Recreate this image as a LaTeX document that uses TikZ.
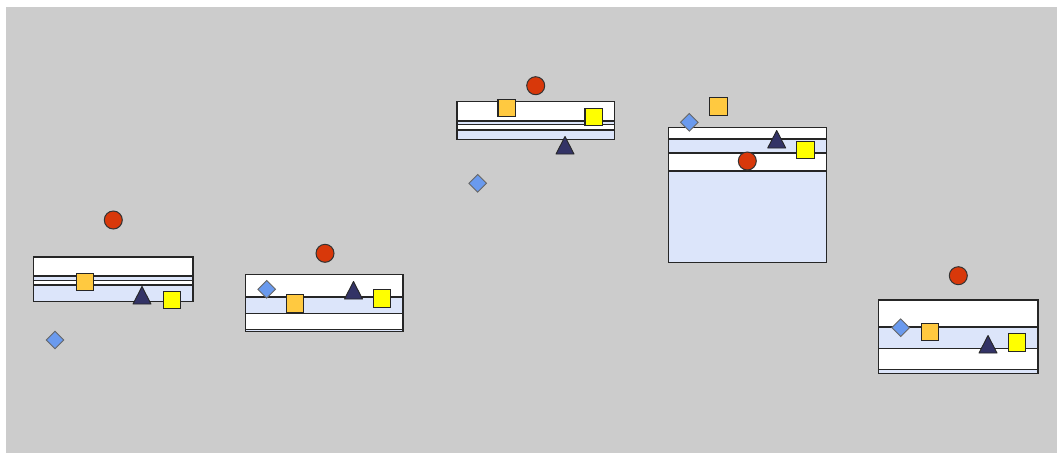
\documentclass[tikz,border=0pt]{standalone}
\usetikzlibrary{shapes.geometric}
\definecolor{bggray}{HTML}{CCCCCC}
\definecolor{lblue}{HTML}{DCE5FA}
\definecolor{dotred}{HTML}{D8380A}
\definecolor{sqorange}{HTML}{FFC940}
\definecolor{sqyellow}{HTML}{FFFF00}
\definecolor{trinavy}{HTML}{333366}
\definecolor{dmblue}{HTML}{6A9AEE}
\tikzset{
  band/.style={draw=black!85, line width=1.3pt},
  dot/.style={draw=black!80, fill=dotred, circle, minimum size=18pt, inner sep=0pt, line width=1pt},
  sqo/.style={draw=black!85, fill=sqorange, rectangle, minimum size=17.5pt, inner sep=0pt, line width=1.1pt},
  sqy/.style={draw=black!85, fill=sqyellow, rectangle, minimum size=17.5pt, inner sep=0pt, line width=1.1pt},
  dmd/.style={draw=black!60, fill=dmblue, diamond, minimum size=18pt, inner sep=0pt, line width=0.9pt},
  tri/.pic={\draw[draw=black!85, fill=trinavy, line width=0.9pt, line join=round] (-9,0) -- (0,-17.5) -- (9,0) -- cycle;}
}
\begin{document}
\begin{tikzpicture}[x=1pt,y=-1pt]
\useasboundingbox (0,0) rectangle (1057,453);
\fill[white] (0,0) rectangle (1057,453);
\fill[bggray] (6,6.5) rectangle (1057,453);
% boxes
\foreach \ya/\yb/\c in {257/276/white, 276/280.5/lblue, 280.5/285/white, 285/301.5/lblue}
  \draw[band, fill=\c] (33.5,\ya) rectangle (193,\yb);
\foreach \ya/\yb/\c in {274.5/297/white, 297/313.5/lblue, 313.5/329.3/white, 329.3/331.5/lblue}
  \draw[band, fill=\c] (245.5,\ya) rectangle (403,\yb);
\foreach \ya/\yb/\c in {101.7/121/white, 121/124.5/lblue, 124.5/130/white, 130/139.5/lblue}
  \draw[band, fill=\c] (457,\ya) rectangle (614.5,\yb);
\foreach \ya/\yb/\c in {127.3/139/white, 139/153/lblue, 153/171/white, 171/262.5/lblue}
  \draw[band, fill=\c] (668.7,\ya) rectangle (826.3,\yb);
\foreach \ya/\yb/\c in {300/327/white, 327/348.8/lblue, 348.8/369.3/white, 369.3/373.8/lblue}
  \draw[band, fill=\c] (878.7,\ya) rectangle (1038,\yb);
% box 1
\node[dot] (c1) at (113.3,220) {};
\node[sqo] (o1) at (84.8,282) {};
\pic at (142,304) {tri};
\node[sqy] (y1) at (172,300) {};
\node[dmd] (d1) at (55,340) {};
% box 2
\node[dot] (c2) at (325,253.3) {};
\node[dmd] (d2) at (266.7,289.3) {};
\node[sqo] (o2) at (295,303.3) {};
\pic at (353.5,299) {tri};
\node[sqy] (y2) at (382,298.5) {};
% box 3
\node[dot] (c3) at (535.7,85.7) {};
\node[sqo] (o3) at (506.7,107.8) {};
\node[sqy] (y3) at (593.7,116.8) {};
\pic at (565,154) {tri};
\node[dmd] (d3) at (477.7,183.3) {};
% box 4
\node[sqo] (o4) at (718.3,106.5) {};
\node[dmd] (d4) at (689.3,122.3) {};
\pic at (776.7,148) {tri};
\node[sqy] (y4) at (805.3,149.8) {};
\node[dot] (c4) at (747.3,161) {};
% box 5
\node[dot] (c5) at (958.3,275.7) {};
\node[dmd] (d5) at (900.7,327.7) {};
\node[sqo] (o5) at (930,331.8) {};
\pic at (988,353) {tri};
\node[sqy] (y5) at (1017,342.3) {};
\end{tikzpicture}
\end{document}
